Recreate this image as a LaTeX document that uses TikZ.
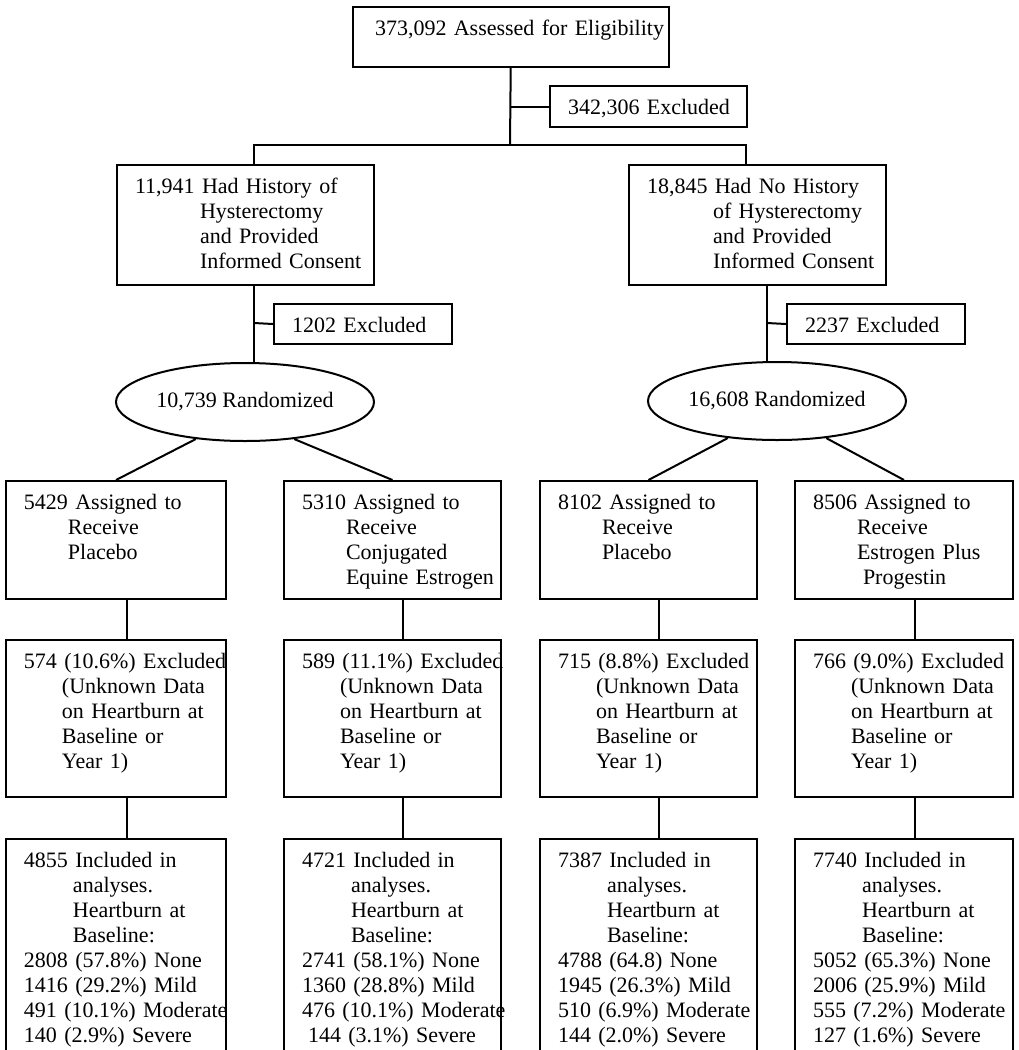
\documentclass[tikz,border=0pt]{standalone}
\usepackage{fontspec}
\setmainfont{Liberation Serif}
\usetikzlibrary{positioning}
\usetikzlibrary{shapes.geometric}
\newcommand{\tnr}{\fontsize{11}{12.5}\selectfont}
\newcommand{\rows}[1]{\begin{tabular}[t]{@{}l@{}}#1\end{tabular}}
\tikzset{ln/.style={line width=1pt}}
\tikzset{box/.style={draw,line width=1pt,anchor=north west,align=left,inner xsep=9pt,inner ysep=0pt,text height=14pt,font=\tnr}}
\tikzset{rnd/.style={draw,ellipse,line width=1pt,inner sep=0pt,minimum width=129pt,minimum height=39pt,font=\tnr}}

\begin{document}
\begin{tikzpicture}[x=0.5pt,y=-0.5pt]
\useasboundingbox (0,0) rectangle (1018,1050);

\node[box,text width=136pt,text depth=16pt,inner xsep=11pt] at (352,6) (elig) {\rows{373,092 Assessed for Eligibility}};
\node[box,text width=80.5pt,text depth=6.5pt] at (549,85) (ex0) {\rows{342,306 Excluded}};

\node[box,text width=110.5pt,text depth=46pt] at (116,164) (hyst) {\rows{11,941 Had History of\\ \hspace*{32.5pt}Hysterectomy\\ \hspace*{32.5pt}and Provided\\ \hspace*{32.5pt}Informed Consent}};
\node[box,text width=110.5pt,text depth=46pt] at (628,164) (nohyst) {\rows{18,845 Had No History\\ \hspace*{33pt}of Hysterectomy\\ \hspace*{33pt}and Provided\\ \hspace*{33pt}Informed Consent}};

\node[box,text width=71pt,text depth=6pt] at (273,303) (ex1) {\rows{1202 Excluded}};
\node[box,text width=71pt,text depth=6pt] at (786,303) (ex2) {\rows{2237 Excluded}};

\node[rnd] at (245,402) (rand1) {10,739 Randomized};
\node[rnd] at (777,401) (rand2) {16,608 Randomized};

% assigned
\node[box,text width=92pt,text depth=45pt] at (5,480) (asg1) {\rows{5429 Assigned to\\ \hspace*{22pt}Receive\\ \hspace*{22pt}Placebo}};
\node[box,text width=90.5pt,text depth=45pt] at (283,480) (asg2) {\rows{5310 Assigned to\\ \hspace*{22pt}Receive\\ \hspace*{22pt}Conjugated\\ \hspace*{22pt}Equine Estrogen}};
\node[box,text width=90.5pt,text depth=45pt] at (539,480) (asg3) {\rows{8102 Assigned to\\ \hspace*{22pt}Receive\\ \hspace*{22pt}Placebo}};
\node[box,text width=91pt,text depth=45pt] at (794,480) (asg4) {\rows{8506 Assigned to\\ \hspace*{22pt}Receive\\ \hspace*{22pt}Estrogen Plus\\ \hspace*{25pt}Progestin}};

% excluded
\node[box,below=19.5pt of asg1.south west,anchor=north west,text width=92pt,text depth=64.5pt] (exc1) {\rows{574 (10.6\%) Excluded\\ \hspace*{19pt}(Unknown Data\\ \hspace*{19pt}on Heartburn at\\ \hspace*{19pt}Baseline or\\ \hspace*{19pt}Year 1)}};
\node[box,below=19.5pt of asg2.south west,anchor=north west,text width=90.5pt,text depth=64.5pt] (exc2) {\rows{589 (11.1\%) Excluded\\ \hspace*{19pt}(Unknown Data\\ \hspace*{19pt}on Heartburn at\\ \hspace*{19pt}Baseline or\\ \hspace*{19pt}Year 1)}};
\node[box,below=19.5pt of asg3.south west,anchor=north west,text width=90.5pt,text depth=64.5pt] (exc3) {\rows{715 (8.8\%) Excluded\\ \hspace*{19pt}(Unknown Data\\ \hspace*{19pt}on Heartburn at\\ \hspace*{19pt}Baseline or\\ \hspace*{19pt}Year 1)}};
\node[box,below=19.5pt of asg4.south west,anchor=north west,text width=91pt,text depth=64.5pt] (exc4) {\rows{766 (9.0\%) Excluded\\ \hspace*{19pt}(Unknown Data\\ \hspace*{19pt}on Heartburn at\\ \hspace*{19pt}Baseline or\\ \hspace*{19pt}Year 1)}};

% included
\node[box,below=20pt of exc1.south west,anchor=north west,text width=92pt,text depth=94pt] (inc1) {\rows{4855 Included in\\ \hspace*{24.5pt}analyses.\\ \hspace*{24.5pt}Heartburn at\\ \hspace*{24.5pt}Baseline:\\ 2808 (57.8\%) None\\ 1416 (29.2\%) Mild\\ 491 (10.1\%) Moderate\\ 140 (2.9\%) Severe}};
\node[box,below=20pt of exc2.south west,anchor=north west,text width=90.5pt,text depth=94pt] (inc2) {\rows{4721 Included in\\ \hspace*{24.5pt}analyses.\\ \hspace*{24.5pt}Heartburn at\\ \hspace*{24.5pt}Baseline:\\ 2741 (58.1\%) None\\ 1360 (28.8\%) Mild\\ 476 (10.1\%) Moderate\\ \hspace*{3pt}144 (3.1\%) Severe}};
\node[box,below=20pt of exc3.south west,anchor=north west,text width=90.5pt,text depth=94pt] (inc3) {\rows{7387 Included in\\ \hspace*{24.5pt}analyses.\\ \hspace*{24.5pt}Heartburn at\\ \hspace*{24.5pt}Baseline:\\ 4788 (64.8) None\\ 1945 (26.3\%) Mild\\ 510 (6.9\%) Moderate\\ 144 (2.0\%) Severe}};
\node[box,below=20pt of exc4.south west,anchor=north west,text width=91pt,text depth=94pt] (inc4) {\rows{7740 Included in\\ \hspace*{24.5pt}analyses.\\ \hspace*{24.5pt}Heartburn at\\ \hspace*{24.5pt}Baseline:\\ 5052 (65.3\%) None\\ 2006 (25.9\%) Mild\\ 555 (7.2\%) Moderate\\ 127 (1.6\%) Severe}};

\coordinate (brk) at (510,145);
\coordinate (brkL) at (254,145);
\coordinate (brkR) at (746,145);
\coordinate (vL) at (254,323);
\coordinate (vR) at (767,323);

\draw[ln] (elig) -- (brk);
\draw[ln] (ex0.west) -- (ex0.west -| brk);
\draw[ln] (brkL |- hyst.north) -- (brkL) -- (brkR) -- (brkR |- nohyst.north);
\draw[ln] (vL |- hyst.south) -- (vL |- rand1.north);
\draw[ln] (ex1.west) -- (vL);
\draw[ln] (vR |- nohyst.south) -- (vR |- rand2.north);
\draw[ln] (ex2.west) -- (vR);

\draw[ln] (rand1.217) -- (asg1.north);
\draw[ln] (rand1.323) -- (asg2.north);
\draw[ln] (rand2.217) -- (asg3.north);
\draw[ln] (rand2.323) -- (asg4.north);

\draw[ln] ([xshift=5.5pt]asg1.south) -- ([xshift=5.5pt]exc1.north);
\draw[ln] ([xshift=5.25pt]asg2.south) -- ([xshift=5.25pt]exc2.north);
\draw[ln] ([xshift=5pt]asg3.south) -- ([xshift=5pt]exc3.north);
\draw[ln] ([xshift=5.5pt]asg4.south) -- ([xshift=5.5pt]exc4.north);
\draw[ln] ([xshift=5.5pt]exc1.south) -- ([xshift=5.5pt]inc1.north);
\draw[ln] ([xshift=5.25pt]exc2.south) -- ([xshift=5.25pt]inc2.north);
\draw[ln] ([xshift=5pt]exc3.south) -- ([xshift=5pt]inc3.north);
\draw[ln] ([xshift=5.5pt]exc4.south) -- ([xshift=5.5pt]inc4.north);
\end{tikzpicture}
\end{document}
